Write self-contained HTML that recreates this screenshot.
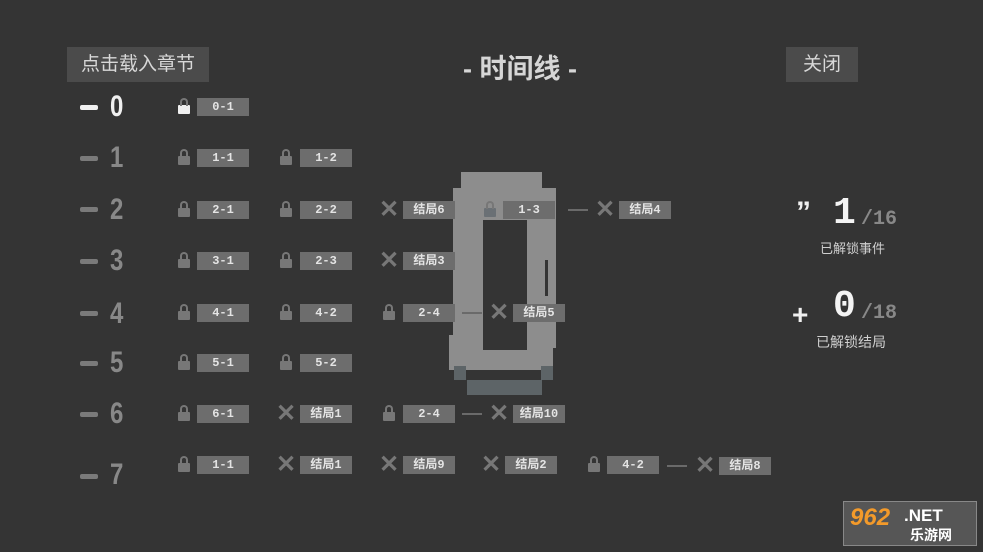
<!DOCTYPE html>
<html><head><meta charset="utf-8"><style>
body{margin:0;width:983px;height:552px;background:#343434;position:relative;overflow:hidden;font-family:"Liberation Sans","Noto Sans CJK SC",sans-serif}
div,span{position:absolute}
.btn{background:#4b4b4b;color:#d8d8d8;font-size:19px;text-align:center;line-height:35px;height:35px;top:47px}
.dash{width:18px;height:5px;background:#7a7a7a;border-radius:2px;left:80px}
.num{left:110px;font-family:"Liberation Sans Narrow","Liberation Sans",sans-serif;font-size:30px;color:#888;font-weight:bold;width:20px;transform:scaleX(0.8);transform-origin:left}
.box{width:52px;height:18px;background:#6d6d6d;color:#e4e4e4;font-size:12px;line-height:18px;text-align:center;font-family:"Liberation Mono","Noto Sans CJK SC",monospace;font-weight:bold}
.lk{width:12px;height:9px;background:#777;border-radius:1px;margin-top:1px}
.lk:before{content:"";position:absolute;left:2px;top:-7px;width:4px;height:6px;border:2px solid #777;border-bottom:none;border-radius:4px 4px 0 0}
.x{color:#777;font-size:24px;font-weight:bold;line-height:18px;width:20px;text-align:center}
.ln{height:2px;width:20px;background:#6a6a6a}
.g{background:#8d8d8d}
.b{background:#5d6467}
</style></head><body>
<div class="btn" style="left:67px;width:142px">点击载入章节</div>
<div class="btn" style="left:786px;width:72px">关闭</div>
<div style="left:420px;width:200px;top:47px;text-align:center;color:#d6d6d6;font-size:27px;font-weight:bold">- 时间线 -</div>

<!-- big 0 -->
<div class="g" style="left:461px;top:172px;width:81px;height:190px"></div>
<div class="g" style="left:453px;top:188px;width:103px;height:160px"></div>
<div class="g" style="left:449px;top:335px;width:104px;height:35px"></div>
<div class="b" style="left:454px;top:366px;width:12px;height:14px"></div>
<div class="b" style="left:541px;top:366px;width:12px;height:14px"></div>
<div class="b" style="left:467px;top:380px;width:75px;height:15px"></div>
<div style="left:483px;top:220px;width:44px;height:130px;background:#343434"></div>
<div style="left:545px;top:260px;width:3px;height:36px;background:#343434"></div>

<!-- rows -->
<div class="dash" style="top:105px;background:#f0f0f0"></div><div class="num" style="top:90px;color:#f0f0f0">0</div>
<div class="dash" style="top:156px"></div><div class="num" style="top:141px">1</div>
<div class="dash" style="top:207px"></div><div class="num" style="top:193px">2</div>
<div class="dash" style="top:259px"></div><div class="num" style="top:244px">3</div>
<div class="dash" style="top:311px"></div><div class="num" style="top:297px">4</div>
<div class="dash" style="top:361px"></div><div class="num" style="top:346px">5</div>
<div class="dash" style="top:412px"></div><div class="num" style="top:397px">6</div>
<div class="dash" style="top:474px"></div><div class="num" style="top:458px">7</div>

<div class="lk" style="left:178px;top:104px;background:#f0f0f0"></div><div class="box" style="left:197px;top:98px">0-1</div>

<div class="lk" style="left:178px;top:155px"></div><div class="box" style="left:197px;top:149px">1-1</div>
<div class="lk" style="left:280px;top:155px"></div><div class="box" style="left:300px;top:149px">1-2</div>

<div class="lk" style="left:178px;top:207px"></div><div class="box" style="left:197px;top:201px">2-1</div>
<div class="lk" style="left:280px;top:207px"></div><div class="box" style="left:300px;top:201px">2-2</div>
<div class="x" style="left:379px;top:201px">✕</div><div class="box" style="left:403px;top:201px">结局6</div>
<div class="lk" style="left:484px;top:207px;background:#6a7075"></div><div class="box" style="left:503px;top:201px">1-3</div>
<div class="ln" style="left:568px;top:209px"></div>
<div class="x" style="left:595px;top:201px">✕</div><div class="box" style="left:619px;top:201px">结局4</div>

<div class="lk" style="left:178px;top:258px"></div><div class="box" style="left:197px;top:252px">3-1</div>
<div class="lk" style="left:280px;top:258px"></div><div class="box" style="left:300px;top:252px">2-3</div>
<div class="x" style="left:379px;top:252px">✕</div><div class="box" style="left:403px;top:252px">结局3</div>

<div class="lk" style="left:178px;top:310px"></div><div class="box" style="left:197px;top:304px">4-1</div>
<div class="lk" style="left:280px;top:310px"></div><div class="box" style="left:300px;top:304px">4-2</div>
<div class="lk" style="left:383px;top:310px"></div><div class="box" style="left:403px;top:304px">2-4</div>
<div class="ln" style="left:462px;top:312px"></div>
<div class="x" style="left:489px;top:304px">✕</div><div class="box" style="left:513px;top:304px">结局5</div>

<div class="lk" style="left:178px;top:360px"></div><div class="box" style="left:197px;top:354px">5-1</div>
<div class="lk" style="left:280px;top:360px"></div><div class="box" style="left:300px;top:354px">5-2</div>

<div class="lk" style="left:178px;top:411px"></div><div class="box" style="left:197px;top:405px">6-1</div>
<div class="x" style="left:276px;top:405px">✕</div><div class="box" style="left:300px;top:405px">结局1</div>
<div class="lk" style="left:383px;top:411px"></div><div class="box" style="left:403px;top:405px">2-4</div>
<div class="ln" style="left:462px;top:413px"></div>
<div class="x" style="left:489px;top:405px">✕</div><div class="box" style="left:513px;top:405px">结局10</div>

<div class="lk" style="left:178px;top:462px"></div><div class="box" style="left:197px;top:456px">1-1</div>
<div class="x" style="left:276px;top:456px">✕</div><div class="box" style="left:300px;top:456px">结局1</div>
<div class="x" style="left:379px;top:456px">✕</div><div class="box" style="left:403px;top:456px">结局9</div>
<div class="x" style="left:481px;top:456px">✕</div><div class="box" style="left:505px;top:456px">结局2</div>
<div class="lk" style="left:588px;top:462px"></div><div class="box" style="left:607px;top:456px">4-2</div>
<div class="ln" style="left:667px;top:465px"></div>
<div class="x" style="left:695px;top:457px">✕</div><div class="box" style="left:719px;top:457px">结局8</div>

<!-- right stats -->
<div style="left:796px;top:198px;color:#f0f0f0;font-size:30px;font-weight:bold;line-height:30px">”</div>
<div style="left:833px;top:194px;color:#f4f4f4;font-size:38px;font-weight:bold;font-family:'Liberation Mono',monospace;line-height:40px">1</div>
<div style="left:861px;top:208px;color:#888;font-size:20px;font-weight:bold;font-family:'Liberation Mono',monospace">/16</div>
<div style="left:820px;top:238px;color:#cfcfcf;font-size:13px">已解锁事件</div>
<div style="left:792px;top:300px;color:#f0f0f0;font-size:28px;font-weight:bold;line-height:30px">+</div>
<div style="left:833px;top:287px;color:#f4f4f4;font-size:38px;font-weight:bold;font-family:'Liberation Mono',monospace;line-height:40px">0</div>
<div style="left:861px;top:302px;color:#888;font-size:20px;font-weight:bold;font-family:'Liberation Mono',monospace">/18</div>
<div style="left:816px;top:332px;color:#cfcfcf;font-size:14px">已解锁结局</div>

<!-- logo -->
<div style="left:843px;top:501px;width:132px;height:43px;background:#565656;border:1px solid #888">
<span style="left:6px;top:2px;color:#f39a2a;font-size:24px;font-weight:bold;font-style:italic">962</span>
<span style="left:60px;top:4px;color:#fff;font-size:17px;font-weight:bold">.NET</span>
<span style="left:66px;top:23px;color:#fff;font-size:14px;font-weight:bold">乐游网</span>
</div>
</body></html>
